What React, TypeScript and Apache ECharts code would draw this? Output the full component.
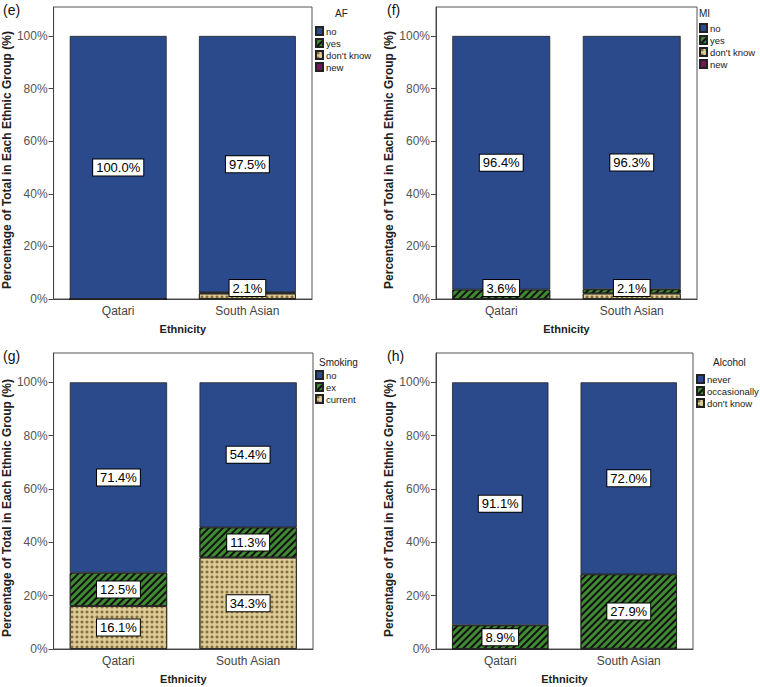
import React, { useEffect, useRef } from "react";
import * as echarts from "echarts";

const categories = ["Qatari", "South Asian"];
const yTicks = [0, 20, 40, 60, 80, 100];

// (e) AF
const afNo = [100.0, 97.5];
const afYes = [0, 0.4];
const afDontKnow = [0, 2.1];
const afNew = [0, 0];
// (f) MI
const miNo = [96.4, 96.3];
const miYes = [3.6, 1.6];
const miDontKnow = [0, 2.1];
const miNew = [0, 0];
// (g) Smoking
const smokingNo = [71.4, 54.4];
const smokingEx = [12.5, 11.3];
const smokingCurrent = [16.1, 34.3];
// (h) Alcohol
const alcoholNever = [91.1, 72.0];
const alcoholOccasionally = [8.9, 27.9];
const alcoholDontKnow = [0, 0.1];

const FONT = 'Arial, "Liberation Sans", sans-serif';

const stripes = {
  symbol: "rect",
  symbolSize: 1,
  dashArrayX: [1, 0],
  dashArrayY: [2, 3],
  rotation: -Math.PI / 4,
  color: "#111",
};
const crosses = {
  symbol: "path://M2 0H4V2H6V4H4V6H2V4H0V2H2Z",
  symbolSize: 0.8,
  dashArrayX: [4, 1],
  dashArrayY: [4, 1],
  color: "#6b5226",
};

const kindStyle: Record<string, any> = {
  no: { color: "#2b4a8c" },
  yes: { color: "#3f8a32", decal: stripes },
  dk: { color: "#dccb94", decal: crosses },
  new: { color: "#6e1a55" },
};

type Item = { name: string; values: number[]; kind: string };
type Panel = {
  tag: string;
  title: string;
  titleX: number;
  titleY: number;
  grid: { left: number; top: number; width: number; height: number };
  legendLeft: number;
  legendTop: number;
  items: Item[];
};

const panels: Panel[] = [
  {
    tag: "(e)", title: "AF", titleX: 335, titleY: 8,
    grid: { left: 52, top: 7, width: 260, height: 292 },
    legendLeft: 315, legendTop: 26,
    items: [
      { name: "no", values: afNo, kind: "no" },
      { name: "yes", values: afYes, kind: "yes" },
      { name: "don't know", values: afDontKnow, kind: "dk" },
      { name: "new", values: afNew, kind: "new" },
    ],
  },
  {
    tag: "(f)", title: "MI", titleX: 699, titleY: 8,
    grid: { left: 436, top: 7, width: 261, height: 292 },
    legendLeft: 699, legendTop: 23,
    items: [
      { name: "no", values: miNo, kind: "no" },
      { name: "yes", values: miYes, kind: "yes" },
      { name: "don't know", values: miDontKnow, kind: "dk" },
      { name: "new", values: miNew, kind: "new" },
    ],
  },
  {
    tag: "(g)", title: "Smoking", titleX: 319, titleY: 357,
    grid: { left: 52, top: 353, width: 261, height: 296 },
    legendLeft: 315, legendTop: 370,
    items: [
      { name: "no", values: smokingNo, kind: "no" },
      { name: "ex", values: smokingEx, kind: "yes" },
      { name: "current", values: smokingCurrent, kind: "dk" },
    ],
  },
  {
    tag: "(h)", title: "Alcohol", titleX: 713, titleY: 357,
    grid: { left: 436, top: 353, width: 257, height: 296 },
    legendLeft: 696, legendTop: 374,
    items: [
      { name: "never", values: alcoholNever, kind: "no" },
      { name: "occasionally", values: alcoholOccasionally, kind: "yes" },
      { name: "don't know", values: alcoholDontKnow, kind: "dk" },
    ],
  },
];

export default function App() {
  const ref = useRef<HTMLDivElement>(null);
  useEffect(() => {
    if (!ref.current) return;
    const chart = echarts.init(ref.current, null, { renderer: "svg" });

    const grids: any[] = [];
    const xAxes: any[] = [];
    const yAxes: any[] = [];
    const legends: any[] = [];
    const series: any[] = [];
    const graphics: any[] = [];

    panels.forEach((p, i) => {
      grids.push({
        ...p.grid,
        show: true,
        borderColor: "#555",
        borderWidth: 1,
        backgroundColor: "transparent",
      });
      xAxes.push({
        type: "category",
        gridIndex: i,
        data: categories,
        name: "Ethnicity",
        nameLocation: "middle",
        nameGap: 24,
        nameTextStyle: { fontFamily: FONT, fontSize: 11, fontWeight: "bold", color: "#222" },
        axisLine: { lineStyle: { color: "#444" } },
        axisTick: { alignWithLabel: true, length: 4, lineStyle: { color: "#444" } },
        axisLabel: { fontFamily: FONT, fontSize: 12, color: "#444", margin: 6 },
      });
      yAxes.push({
        type: "value",
        gridIndex: i,
        min: 0,
        max: 111,
        interval: 20,
        name: "Percentage of Total in Each Ethnic Group (%)",
        nameLocation: "middle",
        nameGap: 39,
        nameTextStyle: {
          fontFamily: FONT,
          fontSize: 12,
          fontWeight: "bold",
          color: "#222",
          padding: [0, 14, 0, 0],
        },
        splitLine: { show: false },
        axisLine: { show: true, lineStyle: { color: "#444" } },
        axisTick: { show: true, length: 5, customValues: yTicks, lineStyle: { color: "#444" } },
        axisLabel: {
          customValues: yTicks,
          formatter: (v: number) => `${v}%`,
          fontFamily: FONT,
          fontSize: 12,
          color: "#555",
          margin: 6,
        },
      });
      legends.push({
        orient: "vertical",
        left: p.legendLeft,
        top: p.legendTop,
        data: p.items.map((it) => it.name),
        icon: "rect",
        itemWidth: 7,
        itemHeight: 8,
        itemGap: 2,
        selectedMode: false,
        padding: 0,
        textStyle: { fontFamily: FONT, fontSize: 9.5, color: "#222", lineHeight: 9, padding: [0, 0, 0, -2] },
      });
      // stack bottom-up: reverse of legend order
      [...p.items].reverse().forEach((it) => {
        const st = kindStyle[it.kind];
        series.push({
          type: "bar",
          name: it.name,
          xAxisIndex: i,
          yAxisIndex: i,
          stack: "s" + i,
          barWidth: "75%",
          itemStyle: { color: st.color, decal: st.decal, borderColor: "#222", borderWidth: 0.8 },
          label: {
            formatter: (prm: any) => `${Number(prm.value).toFixed(1)}%`,
            fontFamily: FONT,
            fontSize: 13,
            color: "#000",
            backgroundColor: "#fff",
            borderColor: "#000",
            borderWidth: 1,
            padding: [2, 3, 1, 3],
          },
          data: it.values.map((v) => ({
            value: v,
            label: {
              show: v >= 2,
              position: v < 5 ? "insideBottom" : "inside",
              distance: 3,
            },
          })),
        });
      });
      graphics.push({
        type: "text",
        left: p.grid.left - 49,
        top: p.grid.top - 4,
        style: { text: p.tag, font: `14px ${FONT}`, fill: "#111" },
      });
      graphics.push({
        type: "text",
        left: p.titleX,
        top: p.titleY,
        style: { text: p.title, font: `10px ${FONT}`, fill: "#222" },
      });
    });

    chart.setOption({
      animation: false,
      backgroundColor: "#fff",
      grid: grids,
      xAxis: xAxes,
      yAxis: yAxes,
      legend: legends,
      series,
      graphic: graphics,
    });
    return () => chart.dispose();
  }, []);

  return (
    <div
      ref={ref}
      style={{ position: "fixed", left: 0, top: 0, width: 760, height: 687 }}
    />
  );
}
